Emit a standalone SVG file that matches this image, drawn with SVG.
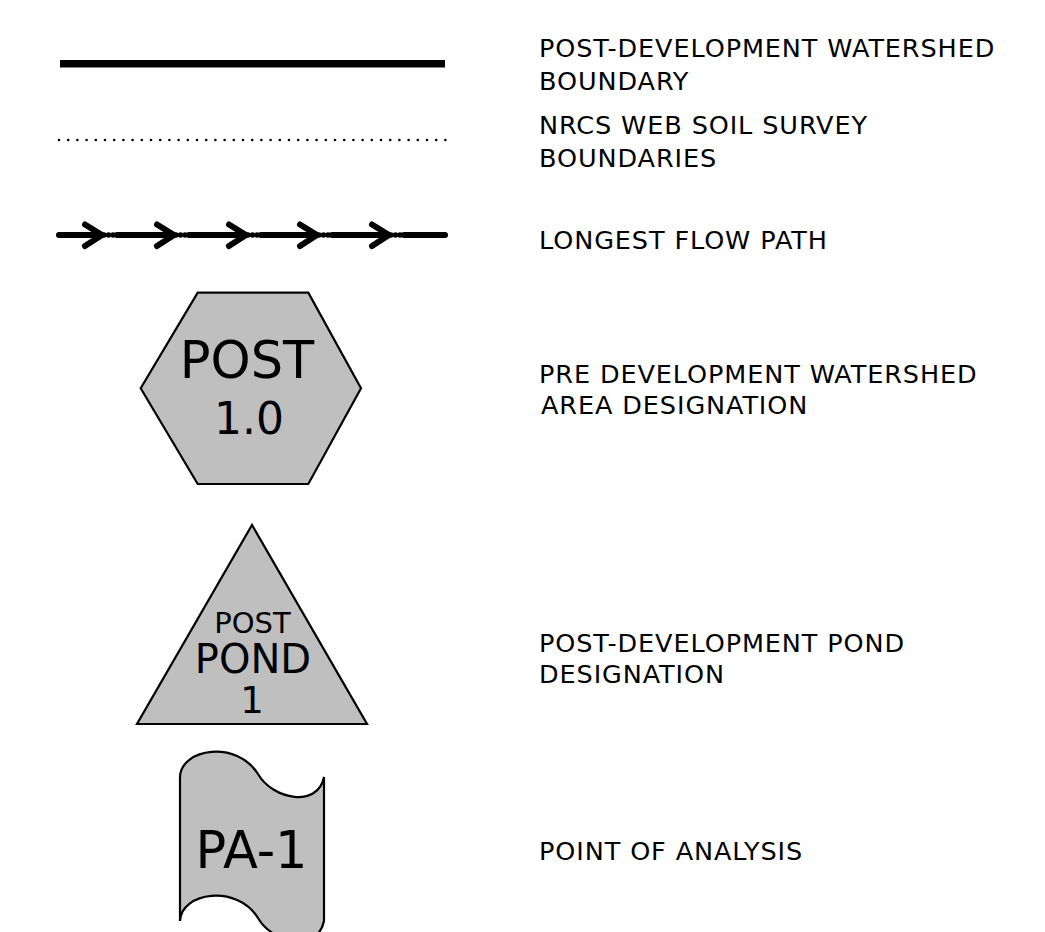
<svg xmlns="http://www.w3.org/2000/svg" width="1045" height="932" viewBox="0 0 1045 932">
<style>
.lbl{font-family:"DejaVu Sans","Liberation Sans",sans-serif;font-size:25.5px;letter-spacing:0.9px;fill:#000}
.sym{font-family:"DejaVu Sans","Liberation Sans",sans-serif;fill:#000;text-anchor:middle}
.shape{fill:#bfbfbf;stroke:#000;stroke-width:2.2;stroke-linejoin:miter}
.flow{stroke:#000;stroke-width:6;stroke-linecap:round;stroke-linejoin:round;fill:none}
.dot{fill:#000}
</style>
<rect width="1045" height="932" fill="#fff"/>
<g id="boundary">
<line x1="60" y1="63.8" x2="445" y2="63.8" stroke="#000" stroke-width="7.5"/>
<text class="lbl" x="539" y="57">POST-DEVELOPMENT WATERSHED</text>
<text class="lbl" x="539" y="90">BOUNDARY</text>
</g>
<g id="soil">
<line x1="59" y1="140" x2="446" y2="140" stroke="#000" stroke-width="2.6" stroke-linecap="round" stroke-dasharray="0 9.2"/>
<text class="lbl" x="539" y="134">NRCS WEB SOIL SURVEY</text>
<text class="lbl" x="539" y="167">BOUNDARIES</text>
</g>
<g id="flowpath">
<path class="flow" d="M59,235 H101 M117,235 H173 M189,235 H245 M261,235 H316 M332,235 H388 M404,235 H445"/>
<path class="flow" d="M85,224.5 L102,235 L85,246 M157,224.5 L174,235 L157,246 M229,224.5 L246,235 L229,246 M300,224.5 L317,235 L300,246 M372,224.5 L389,235 L372,246"/>
<g class="dot">
<circle cx="104" cy="235" r="2.8"/><circle cx="108.5" cy="235" r="2.8"/><circle cx="113" cy="235" r="2.8"/>
<circle cx="176" cy="235" r="2.8"/><circle cx="180.5" cy="235" r="2.8"/><circle cx="185" cy="235" r="2.8"/>
<circle cx="248" cy="235" r="2.8"/><circle cx="252.5" cy="235" r="2.8"/><circle cx="257" cy="235" r="2.8"/>
<circle cx="319" cy="235" r="2.8"/><circle cx="323.5" cy="235" r="2.8"/><circle cx="328" cy="235" r="2.8"/>
<circle cx="391" cy="235" r="2.8"/><circle cx="395.5" cy="235" r="2.8"/><circle cx="400" cy="235" r="2.8"/>
</g>
<text class="lbl" x="539" y="249">LONGEST FLOW PATH</text>
</g>
<g id="hexagon">
<polygon class="shape" points="197.7,292.7 308.3,292.7 361,388.3 308.3,484 197.7,484 140.7,388.3"/>
<text class="sym" x="247" y="378" font-size="51">POST</text>
<text class="sym" x="249" y="434" font-size="44">1.0</text>
<text class="lbl" x="539" y="383">PRE DEVELOPMENT WATERSHED</text>
<text class="lbl" x="541" y="414">AREA DESIGNATION</text>
</g>
<g id="pond">
<polygon class="shape" points="252,525 367,724 137,724"/>
<text class="sym" x="252.5" y="633" font-size="29">POST</text>
<text class="sym" x="253" y="673" font-size="40">POND</text>
<text class="sym" x="252" y="713" font-size="37">1</text>
<text class="lbl" x="539" y="652">POST-DEVELOPMENT POND</text>
<text class="lbl" x="539" y="683">DESIGNATION</text>
</g>
<g id="analysis">
<path class="shape" d="M180,921 L180,777 C181,748 237,740 258,774 C273,800 318,808 324,777 L324,921 C318,952 273,944 258,918 C237,884 181,892 180,921 Z"/>
<text class="sym" x="251.5" y="868" font-size="51">PA-1</text>
<text class="lbl" x="539" y="860">POINT OF ANALYSIS</text>
</g>
</svg>
